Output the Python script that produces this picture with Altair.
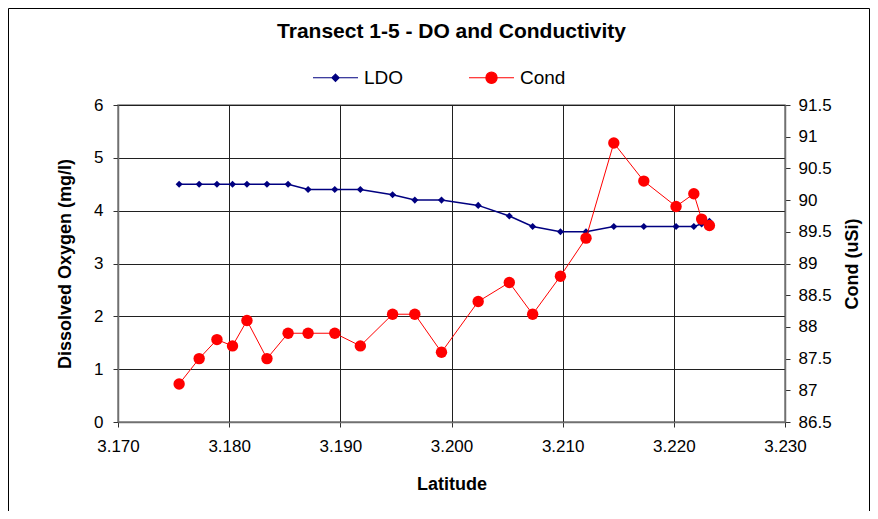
import altair as alt
import pandas as pd

# ---- data ----
latitude = [3.1755, 3.1773, 3.1789, 3.1803, 3.1816, 3.1834, 3.1853, 3.1871,
            3.1895, 3.1918, 3.1947, 3.1967, 3.1991, 3.2024, 3.2052, 3.2073,
            3.2098, 3.2121, 3.2146, 3.2173, 3.2202, 3.2218, 3.2225, 3.2232]
ldo = [4.5, 4.5, 4.5, 4.5, 4.5, 4.5, 4.5, 4.4,
       4.4, 4.4, 4.3, 4.2, 4.2, 4.1, 3.9, 3.7,
       3.6, 3.6, 3.7, 3.7, 3.7, 3.7, 3.75, 3.8]
cond = [87.1, 87.5, 87.8, 87.7, 88.1, 87.5, 87.9, 87.9,
        87.9, 87.7, 88.2, 88.2, 87.6, 88.4, 88.7, 88.2,
        88.8, 89.4, 90.9, 90.3, 89.9, 90.1, 89.7, 89.6]

series_names = ["LDO", "Cond"]
LDO_COLOR = "#000080"
COND_COLOR = "#FF0000"
x_ticks = [3.17, 3.18, 3.19, 3.20, 3.21, 3.22, 3.23]
y_left_ticks = [0, 1, 2, 3, 4, 5, 6]
y_right_ticks = [86.5, 87, 87.5, 88, 88.5, 89, 89.5, 90, 90.5, 91, 91.5]

df = pd.DataFrame({"Latitude": latitude, "LDO": ldo, "Cond": cond})
long = df.melt(id_vars="Latitude", var_name="series", value_name="value")

FONT = "Liberation Sans"

# legend glyphs: a line with the series marker in the middle
ldo_path = "M-1,0H1M0,-0.16L0.16,0L0,0.16L-0.16,0Z"
cond_path = "M-1,0H1M-0.25,0A0.25,0.25,0,1,0,0.25,0A0.25,0.25,0,1,0,-0.25,0Z"

legend = alt.Legend(
    title=None, orient="none", legendX=194, legendY=-51, direction="horizontal",
    symbolSize=2025, labelFontSize=19, labelFont=FONT, labelColor="black",
    labelOffset=5, columnPadding=62, symbolStrokeWidth=1.2, symbolOpacity=1,
)

x = alt.X("Latitude:Q", scale=alt.Scale(domain=[3.17, 3.23], nice=False, zero=False),
          axis=alt.Axis(values=x_ticks, format=".3f", title="Latitude", grid=True,
                        labelFlush=False, labelOverlap=False,
                        titleX=333.5, titleY=67, titleBaseline="alphabetic"))

y_left = alt.Y("value:Q", scale=alt.Scale(domain=[0, 6], nice=False, zero=False),
               axis=alt.Axis(values=y_left_ticks, title="Dissolved Oxygen (mg/l)", grid=True,
                             orient="left", titleAngle=270, titleX=-53, titleY=158.5,
                             labelFlush=False, labelOverlap=False,
                             titleBaseline="middle", labelPadding=10))
y_right = alt.Y("value:Q", scale=alt.Scale(domain=[86.5, 91.5], nice=False, zero=False),
                axis=alt.Axis(values=y_right_ticks, format="~f", title="Cond (uSi)", grid=False,
                              orient="right", titleAngle=270, titleX=67, titleY=158.5,
                              labelFlush=False, labelOverlap=False,
                              titleBaseline="middle", labelPadding=8))

base = alt.Chart(long)

ldo_line = base.transform_filter(alt.datum.series == "LDO").mark_line(
    strokeWidth=1.5, color=LDO_COLOR).encode(x=x, y=y_left)
ldo_pts = base.transform_filter(alt.datum.series == "LDO").mark_point(
    filled=True, size=50, opacity=1, shape="diamond", color=LDO_COLOR).encode(x=x, y=y_left)
cond_line = base.transform_filter(alt.datum.series == "Cond").mark_line(
    strokeWidth=1, color=COND_COLOR).encode(x=x, y=y_right)
cond_pts = base.transform_filter(alt.datum.series == "Cond").mark_point(
    filled=True, size=130, opacity=1, shape="circle", color=COND_COLOR).encode(x=x, y=y_right)

# legend carrier: no marks drawn (empty after filter), only provides the legend
legend_layer = base.transform_filter("false").mark_point(filled=True, size=2025, strokeWidth=1.2).encode(
    x=x,
    color=alt.Color("series:N", scale=alt.Scale(domain=series_names, range=[LDO_COLOR, COND_COLOR]), legend=legend),
    stroke=alt.Stroke("series:N", scale=alt.Scale(domain=series_names, range=[LDO_COLOR, COND_COLOR]), legend=legend),
    shape=alt.Shape("series:N", scale=alt.Scale(domain=series_names, range=[ldo_path, cond_path]), legend=legend),
)

border = alt.Chart(alt.Data(values=[{"k": 1}])).mark_rect(
    fillOpacity=0, stroke="black", strokeWidth=1).encode(
    x=alt.value(-109.5), x2=alt.value(751.5), y=alt.value(-96.5), y2=alt.value(700))

chart = alt.layer(
    alt.layer(ldo_line, ldo_pts),
    alt.layer(cond_line, cond_pts),
    legend_layer,
    border,
).resolve_scale(y="independent").properties(
    width=667, height=317,
    background="white",
    autosize=alt.AutoSizeParams(type="none"),
    padding={"left": 110, "top": 97, "right": 85, "bottom": 89},
    title=alt.Title("Transect 1-5 - DO and Conductivity", fontSize=21, fontWeight="bold",
                    font=FONT, color="black", anchor="middle", frame="group", offset=-51,
                    baseline="alphabetic"),
).configure_axis(
    labelFont=FONT, labelFontSize=17, labelColor="black",
    titleFont=FONT, titleFontSize=18, titleFontWeight="bold", titleColor="black",
    domainColor="#707070", domainWidth=1.5, tickColor="#303030", tickSize=5,
    gridColor="#202020", gridWidth=1, gridOpacity=1,
).configure_axisX(labelPadding=11).configure_view(
    stroke="#808080", strokeWidth=1.5
)

chart.save("out.html", embed_options={"renderer": "svg", "actions": False})
